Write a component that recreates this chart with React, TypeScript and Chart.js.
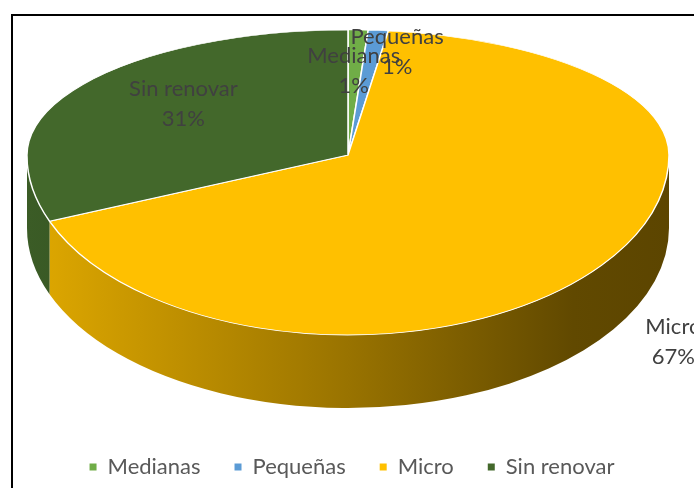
import React, { useEffect, useRef } from "react";
import { Chart, registerables } from "chart.js";

Chart.register(...registerables);

// ---- data ----
const categories = ["Medianas", "Pequeñas", "Micro", "Sin renovar"];
const shares = [1, 1, 67, 31];
const colors = ["#70AD47", "#5B9BD5", "#FFC000", "#43682B"];

// ---- layout / style ----
const W = 694;
const H = 488;
const CX = 348;
const CY = 155;
const RX = 321;
const RY_BACK = 125;
const RY_FRONT = 180;
const DEPTH = 73;
const FONT = "Lato";
const FONT_SIZE = 22;
const LINE_GAP = 30;
// label placement: radial fraction and pixel nudge (like Excel's best fit)
const labelPlace = [
  { f: 0.67, dx: -1, dy: 0 },
  { f: 0.83, dx: 24, dy: 0 },
  { f: 1.2, dx: 21, dy: 55 },
  { f: 0.65, dx: 8, dy: -5 },
];

function shade(hex: string, k: number): string {
  const n = parseInt(hex.slice(1), 16);
  const r = Math.round(((n >> 16) & 255) * k);
  const g = Math.round(((n >> 8) & 255) * k);
  const b = Math.round((n & 255) * k);
  return `rgb(${r},${g},${b})`;
}

const pie3d = {
  id: "pie3d",
  beforeDatasetsDraw(chart: any) {
    const ctx: CanvasRenderingContext2D = chart.ctx;
    const meta = chart.getDatasetMeta(0);
    const arcs: any[] = meta.data;
    if (!arcs.length) return false;

    // extruded sides (front half only)
    arcs.forEach((el: any) => {
      const s = Math.max(el.startAngle, 0);
      const e = Math.min(el.endAngle, Math.PI);
      if (e <= s) return;
      const base = el.options.backgroundColor as string;
      const g = ctx.createLinearGradient(CX - RX, 0, CX + RX, 0);
      g.addColorStop(0, shade(base, 0.88));
      g.addColorStop(0.5, shade(base, 0.6));
      g.addColorStop(0.85, shade(base, 0.38));
      g.addColorStop(1, shade(base, 0.36));
      ctx.save();
      ctx.beginPath();
      ctx.ellipse(CX, CY, RX, RY_FRONT, 0, s, e);
      ctx.ellipse(CX, CY + DEPTH, RX, RY_FRONT, 0, e, s, true);
      ctx.closePath();
      ctx.fillStyle = g;
      ctx.fill();
      ctx.restore();
    });

    // top face, drawn by the arc elements in a tilted view
    const R = arcs[0].outerRadius;
    const ox = arcs[0].x;
    const oy = arcs[0].y;
    const halves: [number, number, number][] = [
      [0, CY, RY_BACK],
      [CY, H - CY, RY_FRONT],
    ];
    halves.forEach(([y0, h, ry]) => {
      ctx.save();
      ctx.beginPath();
      ctx.rect(0, y0, W, h);
      ctx.clip();
      ctx.translate(CX, CY);
      ctx.scale(RX / R, ry / R);
      ctx.translate(-ox, -oy);
      arcs.forEach((a: any) => a.draw(ctx));
      ctx.restore();
    });

    // data labels
    const data: number[] = chart.data.datasets[0].data;
    const total = data.reduce((a, b) => a + b, 0);
    ctx.save();
    ctx.font = `${FONT_SIZE}px ${FONT}`;
    ctx.fillStyle = "#404040";
    ctx.textAlign = "center";
    ctx.textBaseline = "middle";
    arcs.forEach((el: any, i: number) => {
      const mid = (el.startAngle + el.endAngle) / 2;
      const p = labelPlace[i];
      const sn = Math.sin(mid);
      const ry = sn < 0 ? RY_BACK : RY_FRONT;
      const x = CX + p.f * RX * Math.cos(mid) + p.dx;
      const y = CY + p.f * ry * sn + p.dy;
      const pct = Math.round((data[i] / total) * 100) + "%";
      ctx.fillText(chart.data.labels[i], x, y - LINE_GAP / 2);
      ctx.fillText(pct, x, y + LINE_GAP / 2);
    });
    ctx.restore();
    return false;
  },
};

export default function App() {
  const ref = useRef<HTMLCanvasElement | null>(null);
  useEffect(() => {
    if (!ref.current) return;
    const baseGen = (Chart as any).overrides.doughnut.plugins.legend.labels.generateLabels;
    const chart = new Chart(ref.current, {
      type: "pie",
      data: {
        labels: categories,
        datasets: [
          {
            data: shares,
            backgroundColor: colors,
            borderColor: "#ffffff",
            borderWidth: 1,
          },
        ],
      },
      options: {
        responsive: false,
        animation: false,
        devicePixelRatio: 1,
        layout: { padding: { left: 10, bottom: 0 } },
        plugins: {
          tooltip: { enabled: false },
          legend: {
            position: "bottom",
            labels: {
              boxWidth: 7,
              boxHeight: 7,
              padding: 34,
              color: "#595959",
              font: { family: FONT, size: FONT_SIZE },
              generateLabels: (c: any) =>
                baseGen(c).map((l: any) => ({ ...l, lineWidth: 0, strokeStyle: "transparent" })),
            },
          },
        },
      },
      plugins: [pie3d as any],
    });
    return () => chart.destroy();
  }, []);

  return (
    <div
      style={{
        position: "fixed",
        left: 0,
        top: 0,
        width: W,
        height: H,
        overflow: "hidden",
        background: "#ffffff",
      }}
    >
      <canvas ref={ref} width={W} height={H} style={{ display: "block", position: "absolute", left: 0, top: 0 }} />
      <div
        style={{
          position: "absolute",
          left: 11,
          top: 14,
          width: 900,
          height: 700,
          border: "2px solid #000",
          pointerEvents: "none",
        }}
      />
    </div>
  );
}
